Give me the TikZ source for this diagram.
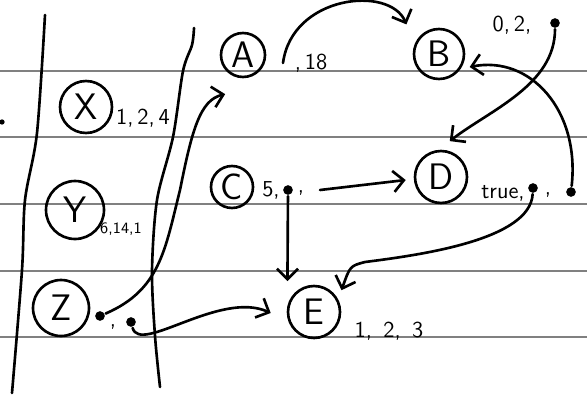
\documentclass[tikz,border=0pt]{standalone}
\usetikzlibrary{arrows.meta}
\begin{document}
\begin{tikzpicture}[x=0.02cm, y=-0.02cm, line join=round, line cap=round, line width=1.5pt,
    >={Straight Barb[length=6pt,width=12pt]},
    font=\sffamily\fontsize{13}{15}\selectfont,
    obj/.style={draw, circle, inner sep=0pt, font=\sffamily\fontsize{21}{23}\selectfont},
    rule/.style={black!50, line width=1pt},
    dot/.style={circle, fill, inner sep=0pt, minimum size=5.5pt}]
    \useasboundingbox (0,0) rectangle (587,402);
    % ruled paper
    \foreach \y in {71,137,204,271,337} \draw[rule] (0,\y)--(587,\y);
    \draw[smooth] plot coordinates {(45,15) (37,133) (25,200) (22,270) (12,393)};
    \draw[smooth] plot coordinates {(194,28) (192,45) (183,71) (173,137) (157,200) (152,271) (155,336) (160,387)};
    \fill (2,122) circle[radius=1.5pt];
    % frames
    \node[obj, minimum size=1.04cm] (X) at (86,107) {X};
    \node[obj, minimum size=1.16cm] (Y) at (75,210) {Y};
    \node[obj, minimum size=1.12cm] (Z) at (61,308) {Z};
    \node (Xlab) at (143,118) {1,\,2,\,4};
    \node[font=\sffamily\small] (Ylab) at (121,229) {6,14,1};
    \node[dot] (Zp1) at (100,316) {};
    \node (Zcomma) at (113,327) {,};
    \node[dot] (Zp2) at (131,322) {};
    % objects
    \node[obj, minimum size=0.88cm] (A) at (243,55) {A};
    \node[obj, minimum size=1.00cm] (B) at (439,54) {B};
    \node[obj, minimum size=0.84cm] (C) at (232,187) {C};
    \node[obj, minimum size=1.04cm] (D) at (441,177) {D};
    \node[obj, minimum size=1.04cm] (E) at (314,312) {E};
    \coordinate (Aq) at (283,63);
    \node (Alab) at (311,63) {,\,18};
    \node (Blab) at (512,25) {0,\,2,};
    \node[dot] (Bp) at (555,23) {};
    \node (Clab) at (271,190) {5,};
    \node[dot] (Cp) at (288,190) {};
    \node (Ccomma) at (301,193) {,};
    \coordinate (Cq) at (320,190);
    \node (Dlab) at (503,193) {true,};
    \node[dot] (Dp1) at (533,188) {};
    \node (Dcomma) at (548,195) {,};
    \node[dot] (Dp2) at (571,192) {};
    \node (Elab) at (389,331) {1,\enspace2,\enspace3};
    % references
    \draw[->] (Aq) .. controls (292,-5) and (390,-15) .. ([shift={(-14,-11)}]B.135);
    \draw[->] (Bp) .. controls (555,85) and (490,110) .. ([shift={(4,-9)}]D.80);
    \draw[->] (Dp2) .. controls (580,110) and (530,55) .. ([shift={(6,4)}]B.-20);
    \draw[->] (Cp) -- ([shift={(-9,-10)}]E.130);
    \draw[->] (Cq) -- ([shift={(-8,3)}]D.west);
    \draw[->] (Dp1) .. controls (530,240) and (420,255) .. (365,262) .. controls (350,266) .. ([shift={(6,-5)}]E.38);
    \draw[->] (Zp1) .. controls (160,290) and (165,250) .. (180,190) .. controls (192,130) and (200,100) .. ([shift={(-8,18)}]A.245);
    \draw[->] (Zp2) .. controls (140,355) and (220,290) .. ([shift={(-16,1)}]E.west);
\end{tikzpicture}
\end{document}
